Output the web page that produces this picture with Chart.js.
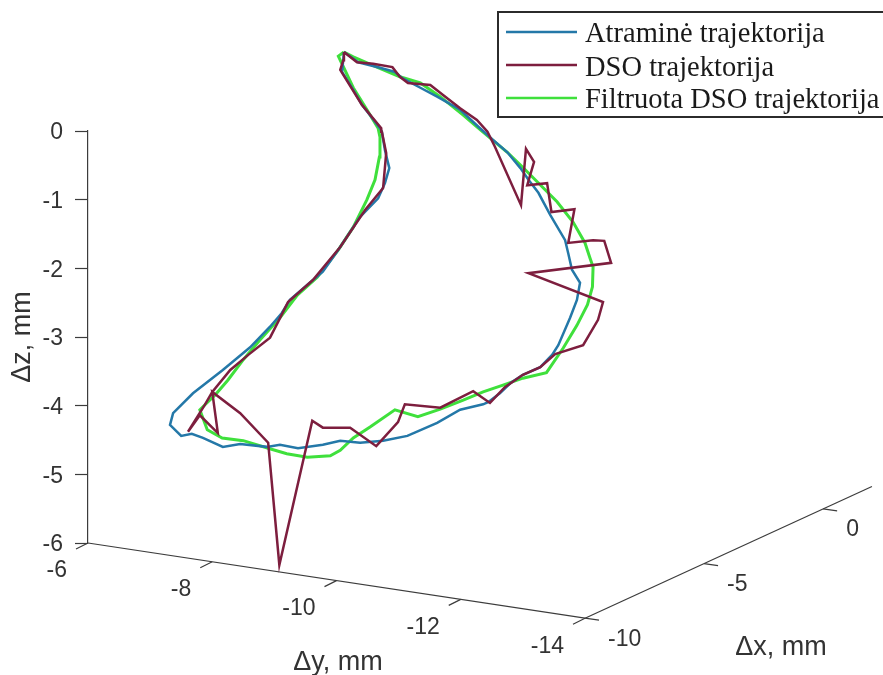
<!DOCTYPE html>
<html>
<head>
<meta charset="utf-8">
<title>Trajektorijos</title>
<style>
  html, body { margin: 0; padding: 0; background: #fff; }
  canvas { display: block; }
</style>
<script src="https://cdn.jsdelivr.net/npm/chart.js@4"></script>
</head>
<body>
<canvas id="trajChart" width="883" height="675"></canvas>
<script>
// 3D plot as seen on the page: the horizontal value is read on the dY axis scale,
// the vertical value is read on the dZ axis scale
const seriesNames = ['Atraminė trajektorija', 'DSO trajektorija', 'Filtruota DSO trajektorija'];
const seriesColors = ['#2478a8', '#7d1e3e', '#3fe03c'];

const refH = [-10.12,-10.35,-10.70,-10.94,-11.06,-11.35,-11.62,-11.99,-12.31,-12.52,-12.75,-12.96,-13.09,-13.25,-13.44,-13.68,-13.73,-13.79,-13.92,-13.87,-13.76,-13.57,-13.47,-13.28,-13.00,-12.80,-12.63,-12.44,-12.36,-11.99,-11.62,-11.14,-10.75,-10.38,-10.06,-9.78,-9.38,-9.09,-8.88,-8.45,-8.17,-7.85,-7.67,-7.50,-7.32,-7.37,-7.69,-8.17,-8.61,-8.93,-9.12,-9.25,-9.57,-9.78,-10.03,-10.38,-10.67,-10.78,-10.85,-10.78,-10.73,-10.70,-10.54,-10.41,-10.27,-10.09,-10.12];
const refV = [1.15,1.00,0.92,0.86,0.77,0.63,0.50,0.31,0.04,-0.13,-0.31,-0.54,-0.71,-0.90,-1.22,-1.59,-1.78,-2.02,-2.21,-2.46,-2.72,-3.12,-3.26,-3.44,-3.55,-3.67,-3.82,-3.95,-3.98,-4.06,-4.25,-4.44,-4.51,-4.54,-4.51,-4.57,-4.62,-4.57,-4.60,-4.56,-4.60,-4.47,-4.41,-4.44,-4.28,-4.11,-3.82,-3.48,-3.15,-2.85,-2.65,-2.46,-2.21,-2.05,-1.73,-1.25,-0.98,-0.76,-0.54,-0.28,-0.01,0.04,0.23,0.38,0.60,0.86,1.15];

const dsoH = [-10.12,-10.33,-10.59,-10.90,-11.02,-11.15,-11.51,-11.72,-11.99,-12.26,-12.43,-12.55,-12.97,-13.05,-13.18,-13.07,-13.39,-13.46,-13.83,-13.73,-14.13,-14.31,-14.42,-13.09,-14.29,-14.21,-13.97,-13.52,-13.28,-13.00,-12.71,-12.47,-12.20,-11.67,-11.10,-10.99,-10.64,-10.22,-9.78,-9.61,-9.08,-8.90,-8.45,-8.00,-8.09,-7.80,-7.61,-7.88,-8.00,-8.29,-8.58,-8.93,-9.06,-9.22,-9.62,-10.06,-10.46,-10.75,-10.80,-10.73,-10.72,-10.41,-10.06,-10.11,-10.12];
const dsoV = [1.15,1.00,0.98,0.93,0.79,0.70,0.67,0.52,0.33,0.16,-0.01,-0.23,-1.08,-0.26,-0.45,-0.79,-0.76,-1.18,-1.14,-1.63,-1.59,-1.60,-1.92,-2.07,-2.49,-2.75,-3.12,-3.25,-3.44,-3.55,-3.73,-3.96,-3.79,-4.03,-3.98,-4.24,-4.59,-4.32,-4.32,-4.22,-6.32,-4.54,-4.11,-3.80,-4.40,-4.14,-4.38,-3.99,-3.80,-3.48,-3.26,-3.01,-2.78,-2.49,-2.17,-1.69,-1.15,-0.83,-0.32,-0.01,0.04,0.38,0.89,1.03,1.15];

const filtH = [-10.12,-10.27,-10.65,-11.02,-11.35,-11.67,-12.04,-12.26,-12.47,-12.75,-12.99,-13.23,-13.55,-13.81,-14.00,-14.08,-14.13,-14.12,-14.04,-13.87,-13.65,-13.38,-13.00,-12.68,-12.36,-12.04,-11.67,-11.31,-10.94,-10.54,-10.27,-10.06,-9.90,-9.53,-9.20,-8.90,-8.50,-8.16,-7.92,-7.80,-8.05,-8.25,-8.50,-8.77,-9.09,-9.37,-9.69,-10.03,-10.27,-10.49,-10.62,-10.69,-10.70,-10.67,-10.49,-10.27,-10.03,-10.12];
const filtV = [1.15,1.08,0.93,0.79,0.70,0.50,0.23,0.06,-0.10,-0.31,-0.52,-0.74,-1.03,-1.33,-1.63,-1.85,-1.98,-2.27,-2.53,-2.83,-3.16,-3.52,-3.60,-3.70,-3.80,-3.92,-4.05,-4.16,-4.06,-4.31,-4.47,-4.65,-4.73,-4.75,-4.70,-4.62,-4.51,-4.47,-4.35,-4.06,-3.84,-3.63,-3.33,-3.04,-2.72,-2.39,-2.13,-1.73,-1.40,-1.00,-0.71,-0.38,-0.09,0.04,0.31,0.63,1.09,1.15];

const zTicks = [0, -1, -2, -3, -4, -5, -6];
const yTicks = [-6, -8, -10, -12, -14];
const xTicks = [-10, -5, 0];
const xAxisEnd = 2.05;

const axisColor = '#3c3c3c';
const labelColor = '#333333';
const sansFamily = '"Liberation Sans", Arial, sans-serif';
const labelFont = '23px ' + sansFamily;
const titleFont = '27px ' + sansFamily;
const legendFont = '28.5px "Liberation Serif", "Times New Roman", serif';

// floor axes are slanted on the page, so they go through these two projections
function floorY(val) {
  return { h: val, v: -6 + (val + 6) * 0.1369 };
}
function floorX(val) {
  const corner = floorY(-14);
  return { h: corner.h - (val + 10) * 0.3833, v: corner.v + (val + 10) * 0.1591 };
}

function makePoints(hs, vs) {
  return hs.map((h, i) => ({ x: h, y: vs[i] }));
}

const axes3d = {
  id: 'axes3d',
  afterDraw(chart) {
    const ctx = chart.ctx;
    const sx = chart.scales.x;
    const sy = chart.scales.y;
    const px = p => ({ x: sx.getPixelForValue(p.h), y: sy.getPixelForValue(p.v) });

    const line = (a, b) => {
      ctx.beginPath();
      ctx.moveTo(a.x, a.y);
      ctx.lineTo(b.x, b.y);
      ctx.stroke();
    };

    ctx.save();
    ctx.strokeStyle = axisColor;
    ctx.lineWidth = 1.2;
    line(px(floorY(-6)), px(floorY(-14)));
    line(px(floorX(-10)), px(floorX(xAxisEnd)));

    ctx.font = labelFont;
    ctx.fillStyle = labelColor;
    ctx.textBaseline = 'middle';

    ctx.textAlign = 'right';
    yTicks.forEach(t => {
      const p = px(floorY(t));
      line(p, { x: p.x - 12, y: p.y + 6 });
      ctx.fillText(String(t), p.x - 21, p.y + 28);
    });

    ctx.textAlign = 'left';
    xTicks.forEach(t => {
      const p = px(floorX(t));
      line(p, { x: p.x + 14, y: p.y + 2 });
      ctx.fillText(String(t), p.x + 23, p.y + 21);
    });

    ctx.font = titleFont;
    ctx.textAlign = 'center';
    ctx.fillText('Δy, mm', 338, 663);
    ctx.fillText('Δx, mm', 781, 648);

    // legend box, its right side runs off the page
    const boxLeft = 498, boxTop = 12, boxBottom = 117;
    ctx.fillStyle = '#fff';
    ctx.fillRect(boxLeft, boxTop, 883 - boxLeft, boxBottom - boxTop);
    ctx.strokeStyle = '#2b2b2b';
    ctx.lineWidth = 2;
    ctx.beginPath();
    ctx.moveTo(883, boxTop);
    ctx.lineTo(boxLeft, boxTop);
    ctx.lineTo(boxLeft, boxBottom);
    ctx.lineTo(883, boxBottom);
    ctx.stroke();

    ctx.font = legendFont;
    ctx.textAlign = 'left';
    ctx.textBaseline = 'alphabetic';
    const rows = [32, 65, 98];
    const baselines = [42, 76, 108];
    seriesNames.forEach((name, i) => {
      ctx.strokeStyle = seriesColors[i];
      ctx.lineWidth = 2.5;
      line({ x: 506, y: rows[i] }, { x: 577, y: rows[i] });
      ctx.fillStyle = '#1a1a1a';
      ctx.fillText(name, 585, baselines[i]);
    });
    ctx.restore();
  }
};

new Chart(document.getElementById('trajChart').getContext('2d'), {
  type: 'scatter',
  data: {
    datasets: [
      { label: seriesNames[0], data: makePoints(refH, refV), borderColor: seriesColors[0], borderWidth: 2.5, order: 1 },
      { label: seriesNames[1], data: makePoints(dsoH, dsoV), borderColor: seriesColors[1], borderWidth: 2.5, order: 0 },
      { label: seriesNames[2], data: makePoints(filtH, filtV), borderColor: seriesColors[2], borderWidth: 3, order: 2 }
    ].map(d => ({ ...d, showLine: true, pointRadius: 0, tension: 0, clip: false }))
  },
  options: {
    responsive: false,
    animation: false,
    layout: { padding: { left: 0, right: 298, top: 131, bottom: 132 } },
    plugins: { legend: { display: false }, tooltip: { enabled: false } },
    scales: {
      x: { type: 'linear', display: false, reverse: true, min: -14, max: -6 },
      y: {
        type: 'linear',
        min: -6,
        max: 0,
        afterFit: s => { s.width = 88; },
        afterBuildTicks: s => { s.ticks = zTicks.map(v => ({ value: v })); },
        border: { color: axisColor, width: 1.2 },
        grid: { drawOnChartArea: false, color: axisColor, tickLength: 13, tickWidth: 1.2 },
        ticks: { color: labelColor, padding: 12, labelOffset: 2, font: { family: sansFamily, size: 23 } },
        title: {
          display: true,
          text: 'Δz, mm',
          color: labelColor,
          padding: { top: 6, bottom: 0 },
          font: { family: sansFamily, size: 27 }
        }
      }
    }
  },
  plugins: [axes3d]
});
</script>
</body>
</html>
